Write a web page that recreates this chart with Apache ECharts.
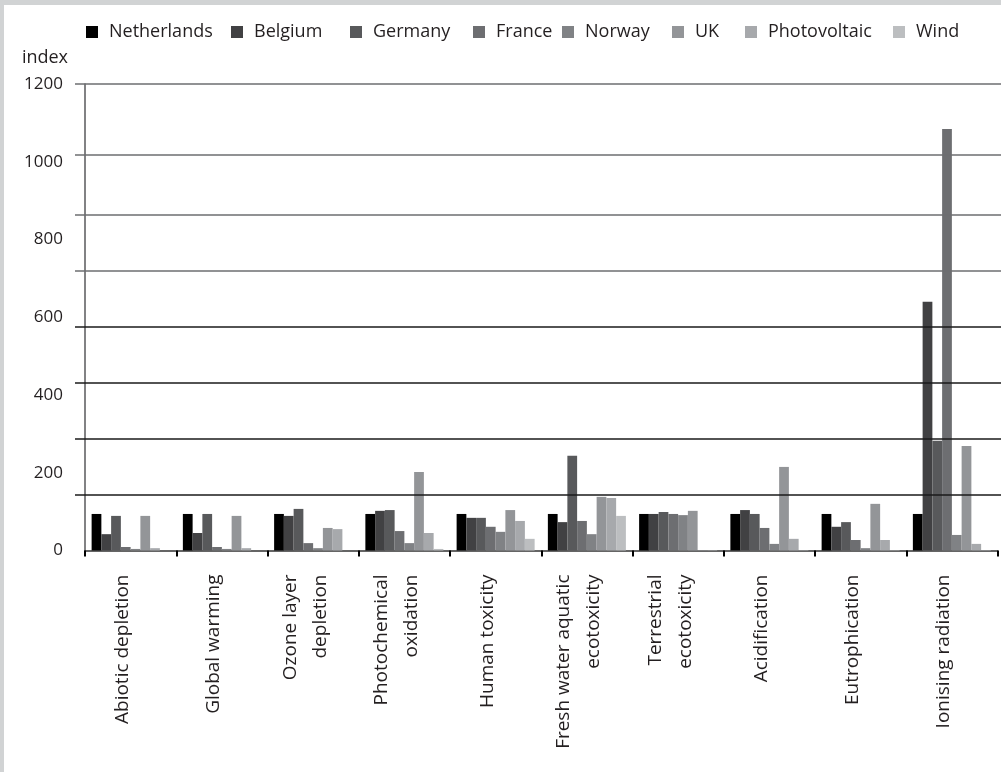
<!DOCTYPE html>
<html>
<head>
<meta charset="utf-8">
<script src="https://cdn.jsdelivr.net/npm/echarts@6/dist/echarts.min.js"></script>
<style>
  html, body { margin: 0; padding: 0; background: #d1d3d4; }
  #chart {
    position: absolute;
    left: 4px;
    top: 5px;
    width: 997px;
    height: 767px;
    background: #ffffff;
  }
</style>
</head>
<body>
<div id="chart"></div>
<script>
const categories = [
  "Abiotic depletion",
  "Global warming",
  "Ozone layer\ndepletion",
  "Photochemical\noxidation",
  "Human toxicity",
  "Fresh water aquatic\necotoxicity",
  "Terrestrial\necotoxicity",
  "Acidification",
  "Eutrophication",
  "Ionising radiation",
];

const seriesNames = ["Netherlands", "Belgium", "Germany", "France", "Norway", "UK", "Photovoltaic", "Wind"];

const netherlands = [94, 94, 94, 94, 94, 94, 94, 94, 94, 94];
const belgium = [42, 45, 89, 102, 84, 73, 94, 104, 61, 640];
const germany = [89, 94, 107, 104, 84, 244, 99, 94, 73, 282];
const france = [9, 9, 19, 50, 61, 76, 94, 58, 27, 1084];
const norway = [4, 4, 6, 19, 48, 42, 91, 17, 6, 40];
const uk = [89, 89, 58, 202, 104, 138, 102, 215, 120, 269];
const photovoltaic = [6, 6, 55, 45, 76, 135, 1, 30, 27, 17];
const wind = [0, 0, 0, 4, 30, 89, 1, 1, 1, 1];

const yTicks = [0, 200, 400, 600, 800, 1000, 1200];
const gridValues = [143, 287, 431, 576, 720, 864, 1019, 1200];

const seriesData = [netherlands, belgium, germany, france, norway, uk, photovoltaic, wind];
const greys = ["#000000", "#414143", "#58595b", "#6d6e71", "#808285", "#939598", "#a7a9ac", "#bcbec0"];

// legend entries sit at uneven spots in the original, one small legend each
const legendLeft = [77, 222, 341, 464, 553, 663, 736, 884];

const font = "'Open Sans', 'DejaVu Sans', sans-serif";
const textColor = "#231f20";

const chart = echarts.init(document.getElementById("chart"));

const barSeries = seriesNames.map((name, i) => ({
  name: name,
  type: "bar",
  data: seriesData[i],
  barGap: "0%",
  barCategoryGap: "14.5%",
  itemStyle: { color: greys[i] },
  z: 3,
}));

// horizontal rules of the original do not follow the tick labels
const gridSeries = {
  name: "grid",
  type: "line",
  data: [],
  silent: true,
  z: 1,
  markLine: {
    silent: true,
    symbol: "none",
    animation: false,
    label: { show: false },
    data: gridValues.map((v) => [
      { x: 71, yAxis: v, lineStyle: { color: v > 700 ? "#6d6e71" : "#1a1a1a", width: 1.5, type: "solid" } },
      { x: 997, yAxis: v },
    ]),
  },
};

chart.setOption({
  animation: false,
  textStyle: { fontFamily: font },
  legend: seriesNames.map((name, i) => ({
    data: [name],
    left: legendLeft[i],
    top: 13,
    itemWidth: 12,
    itemHeight: 12,
    icon: "rect",
    selectedMode: false,
    textStyle: { fontSize: 18, color: textColor, fontFamily: font, padding: [0, 0, 0, 6] },
  })),
  grid: [
    { left: 81, right: 3.5, top: 79, bottom: 221.5 },
    // labels sit a little left of the category centres in the original
    { left: 73, right: 11.5, top: 79, bottom: 221.5 },
  ],
  xAxis: [
    {
      type: "category",
      data: categories,
      gridIndex: 0,
      axisLine: { lineStyle: { color: "#333333", width: 1.5 } },
      axisTick: { show: true, interval: 0, length: 6, lineStyle: { color: "#000000", width: 2 } },
      axisLabel: { show: false, interval: 0 },
      splitLine: { show: false },
    },
    {
      type: "category",
      data: categories,
      gridIndex: 1,
      axisLine: { show: false },
      axisTick: { show: false },
      axisLabel: {
        rotate: 90,
        interval: 0,
        margin: 24,
        fontSize: 19,
        lineHeight: 30,
        color: textColor,
        fontFamily: font,
      },
      splitLine: { show: false },
    },
  ],
  yAxis: [
    {
      type: "value",
      gridIndex: 0,
      min: yTicks[0],
      max: yTicks[yTicks.length - 1],
      interval: 200,
      name: "index",
      nameLocation: "end",
      nameGap: 26,
      nameTextStyle: {
        fontSize: 18,
        color: textColor,
        fontFamily: font,
        align: "right",
        verticalAlign: "middle",
        padding: [0, 17, 0, 0],
      },
      axisLine: { show: true, lineStyle: { color: "#58595b", width: 1.5 } },
      axisTick: { show: false },
      axisLabel: {
        fontSize: 17,
        color: textColor,
        fontFamily: font,
        margin: 22,
        formatter: (v) => String(v),
      },
      splitLine: { show: false },
    },
    {
      type: "value",
      gridIndex: 1,
      min: yTicks[0],
      max: yTicks[yTicks.length - 1],
      show: false,
    },
  ],
  series: [gridSeries].concat(barSeries),
});
</script>
</body>
</html>
